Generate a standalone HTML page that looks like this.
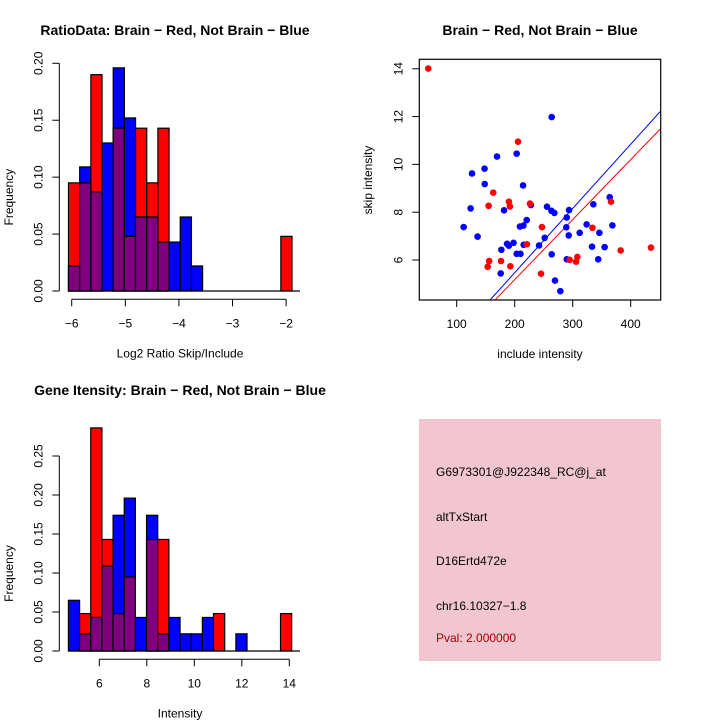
<!DOCTYPE html>
<html><head><meta charset="utf-8"><style>
body{margin:0;background:#fff}
svg{display:block;font-family:"Liberation Sans",sans-serif}
</style></head><body>
<svg id="s" width="720" height="720" xmlns="http://www.w3.org/2000/svg">
<rect width="720" height="720" fill="#fff"/>
</svg>
<script>
// Top-left histogram data (20 bins)
const ratioBinStart = -6.06;
const ratioBinWidth = 0.2085;
const ratioRed  = [0.095,0.095,0.19,0,0.143,0.048,0.143,0.095,0.143,0,0,0,0,0,0,0,0,0,0,0.048];
const ratioBlue = [0.022,0.109,0.087,0.13,0.196,0.152,0.065,0.065,0.043,0.043,0.065,0.022,0,0,0,0,0,0,0,0];
const ratioXTicks = [-6,-5,-4,-3,-2];
const ratioYTicks = ["0.00","0.05","0.10","0.15","0.20"];
// Bottom histogram data
const intBinStart = 4.7;
const intBinWidth = 0.47;
const intRed  = [0,0.048,0.286,0.143,0.048,0.095,0,0.143,0.143,0,0,0,0,0.048,0,0,0,0,0,0.048];
const intBlue = [0.065,0.022,0.043,0.109,0.174,0.196,0.043,0.174,0.022,0.043,0.022,0.022,0.043,0,0,0.022,0,0,0,0];
const intXTicks = [6,8,10,12,14];
const intYTicks = ["0.00","0.05","0.10","0.15","0.20","0.25"];
// Scatter data
const redX = [51,205.7,163,155,190,191.7,226.4,247,221,156,153.4,176.4,192.5,245.4,294.8,308,305.8,334,366,382.7,435];
const redY = [14.01,10.95,8.82,8.27,8.44,8.24,8.36,7.38,6.66,5.96,5.72,5.96,5.74,5.43,6.01,6.13,5.93,7.35,8.44,6.40,6.52];
const blueX = [112,126.4,124,136,148,148.3,169.5,203.4,214.4,263.8,181.6,177,175.9,186.8,190,198,203.4,210,209,215,220.7,215.5,228,242,251.7,255.7,263.3,268.4,263.8,269.5,278.7,289.7,293.7,289,293.1,289.7,324,312,335.6,333.3,346,344,355,363.8,368.4];
const blueY = [7.38,9.62,8.16,6.98,9.82,9.18,10.33,10.45,9.12,11.98,8.08,6.43,5.44,6.68,6.6,6.72,6.26,6.26,7.4,7.44,7.67,6.64,8.3,6.61,6.93,8.23,8.06,7.97,6.24,5.14,4.70,7.78,8.09,7.37,7.03,6.03,7.49,7.14,8.33,6.56,7.14,6.03,6.54,8.63,7.45];
const lineIntercepts = [0.10,0.16];
const lineSlopes = [0.02686,0.0251];
const lineColors = ["#0000ff","#ff0000"];
const scXTicks = [100,200,300,400];
const scYTicks = [6,8,10,12,14];

const svg = document.getElementById('s');
const NS = "http://www.w3.org/2000/svg";
function mk(tag, attrs, parent){const e=document.createElementNS(NS,tag);for(const k in attrs)e.setAttribute(k,attrs[k]);(parent||svg).appendChild(e);return e;}
function txt(s, attrs, parent){const e=mk('text',attrs,parent);e.textContent=s;return e;}

function hist(name, binStart, binW, red, blue, xTicks, yTicks, yStep, x0, x1dat, ybase, ytop, ymaxVal, xAxisY, yAxisX, xlab, title, titleX, titleY){
  const g = mk('g',{});
  
  
  const ppx = x1dat; // pixels per unit x
  const X = v => x0 + (v - binStart) * ppx;
  const Y = v => ybase - v * (ybase - ytop) / ymaxVal;
  const n = red.length;
  for (let i=0;i<n;i++){
    const xa = X(binStart + i*binW), xb = X(binStart + (i+1)*binW);
    const r = red[i], b = blue[i], m = Math.min(r,b);
    if (r>0){const e=mk('rect',{x:xa,y:Y(r),width:xb-xa,height:ybase-Y(r),fill:'#ff0000',stroke:'#000','stroke-width':1.2},g);
      
      }
    if (b>0){const e=mk('rect',{x:xa,y:Y(b),width:xb-xa,height:ybase-Y(b),fill:'#0000ff',stroke:'#000','stroke-width':1.2},g);
      
      }
    if (m>0){const e=mk('rect',{x:xa,y:Y(m),width:xb-xa,height:ybase-Y(m),fill:'#7f007f',stroke:'#000','stroke-width':1.2},g);
      
      }
  }
  mk('line',{x1:X(binStart),y1:ybase,x2:300,y2:ybase,stroke:'#000','stroke-width':1.2},g);
  // y axis
  mk('line',{x1:yAxisX,y1:Y(0),x2:yAxisX,y2:Y(parseFloat(yTicks[yTicks.length-1])),stroke:'#000'},g);
  yTicks.forEach(t=>{const v=parseFloat(t);const y=Y(v);
    mk('line',{x1:yAxisX-7,y1:y,x2:yAxisX,y2:y,stroke:'#000'},g);
    const e=txt(t,{x:0,y:0,'font-size':12,'text-anchor':'middle',transform:`translate(${yAxisX-17},${y}) rotate(-90)`},g);
    
    
  });
  // x axis
  mk('line',{x1:X(xTicks[0]),y1:xAxisY,x2:X(xTicks[xTicks.length-1]),y2:xAxisY,stroke:'#000'},g);
  xTicks.forEach(t=>{const x=X(t);
    mk('line',{x1:x,y1:xAxisY,x2:x,y2:xAxisY+7,stroke:'#000'},g);
    const e=txt(String(t).replace('-','\u2212'),{x:x,y:xAxisY+28,'font-size':12,'text-anchor':'middle'},g);
    
    
  });
  const xl=txt(xlab,{x:180,y:xAxisY+58,'font-size':12,'text-anchor':'middle'},g);
  
  
  const yl=txt('Frequency',{x:0,y:0,'font-size':12,'text-anchor':'middle',transform:`translate(13,${(Y(0)+Y(ymaxVal))/2+20}) rotate(-90)`},g);
  
  
  const tt=txt(title,{x:titleX,y:titleY,'font-size':14,'font-weight':'bold','text-anchor':'middle'},g);
  
  
}

// top-left: -6 at 71.7, 53.6 px/unit; binStart -6.06 -> 68.5
hist('ratio-histogram', ratioBinStart, ratioBinWidth, ratioRed, ratioBlue, ratioXTicks, ratioYTicks, 0.05,
  68.5, 53.6, 291, 63.3, 0.2, 299.3, 59.3, 'Log2 Ratio Skip/Include', 'RatioData: Brain \u2212 Red, Not Brain \u2212 Blue', 175, 35);
// bottom-left: 6 at 99.3, 23.75 px/unit
hist('intensity-histogram', intBinStart, intBinWidth, intRed, intBlue, intXTicks, intYTicks, 0.05,
  99.3 - (6-intBinStart)*23.75, 23.75, 651, 456, 0.25, 659.3, 59.3, 'Intensity', 'Gene Itensity: Brain \u2212 Red, Not Brain \u2212 Blue', 180, 395);

// Scatter
(function(){
  const g = mk('g',{});
  
  
  const L=419.3,R=660.7,T=59.3,B=300;
  const SX = v => 398.7 + v*0.58;
  const SY = v => 403.5 - v*23.91;
  const cp = mk('clipPath',{id:'scclip'},g);
  mk('rect',{x:L,y:T,width:R-L,height:B-T},cp);
  for(let i=0;i<lineSlopes.length;i++){
    const xa=(SY.inv||0, 150), xb=460;
    const e=mk('line',{x1:SX(xa),y1:SY(lineIntercepts[i]+lineSlopes[i]*xa),x2:SX(xb),y2:SY(lineIntercepts[i]+lineSlopes[i]*xb),stroke:lineColors[i],'stroke-width':1,'clip-path':'url(#scclip)'},g);
    
    
  }
  blueX.forEach((x,i)=>{const e=mk('circle',{cx:SX(x),cy:SY(blueY[i]),r:3.3,fill:'#0000ff'},g);
    
    });
  redX.forEach((x,i)=>{const e=mk('circle',{cx:SX(x),cy:SY(redY[i]),r:3.3,fill:'#ff0000'},g);
    
    });
  mk('rect',{x:L,y:T,width:R-L,height:B-T,fill:'none',stroke:'#000','stroke-width':1.2},g);
  scXTicks.forEach(t=>{const x=SX(t);
    mk('line',{x1:x,y1:B,x2:x,y2:B+7,stroke:'#000'},g);
    const e=txt(String(t),{x:x,y:B+28,'font-size':12,'text-anchor':'middle'},g);
    
    });
  scYTicks.forEach(t=>{const y=SY(t);
    mk('line',{x1:L-7,y1:y,x2:L,y2:y,stroke:'#000'},g);
    const e=txt(String(t),{x:0,y:0,'font-size':12,'text-anchor':'middle',transform:`translate(${L-17},${y}) rotate(-90)`},g);
    
    });
  const xl=txt('include intensity',{x:540,y:358,'font-size':12,'text-anchor':'middle'},g);
  
  
  const yl=txt('skip intensity',{x:0,y:0,'font-size':12,'text-anchor':'middle',transform:`translate(372,180) rotate(-90)`},g);
  
  
  const tt=txt('Brain \u2212 Red, Not Brain \u2212 Blue',{x:540,y:35,'font-size':14,'font-weight':'bold','text-anchor':'middle'},g);
  
  
})();
</script>
<svg style="position:absolute;left:0;top:0" width="720" height="720" xmlns="http://www.w3.org/2000/svg">
<rect x="419" y="419" width="242" height="242" fill="#f2c6d0"/>
<g font-family="Liberation Sans, sans-serif" font-size="12">
<text x="436" y="476">G6973301@J922348_RC@j_at</text>
<text x="436" y="521">altTxStart</text>
<text x="436" y="565">D16Ertd472e</text>
<text x="436" y="610">chr16.10327−1.8</text>
<text x="436" y="642" fill="#a00000">Pval: 2.000000</text>
</g>
</svg>
</body></html>
